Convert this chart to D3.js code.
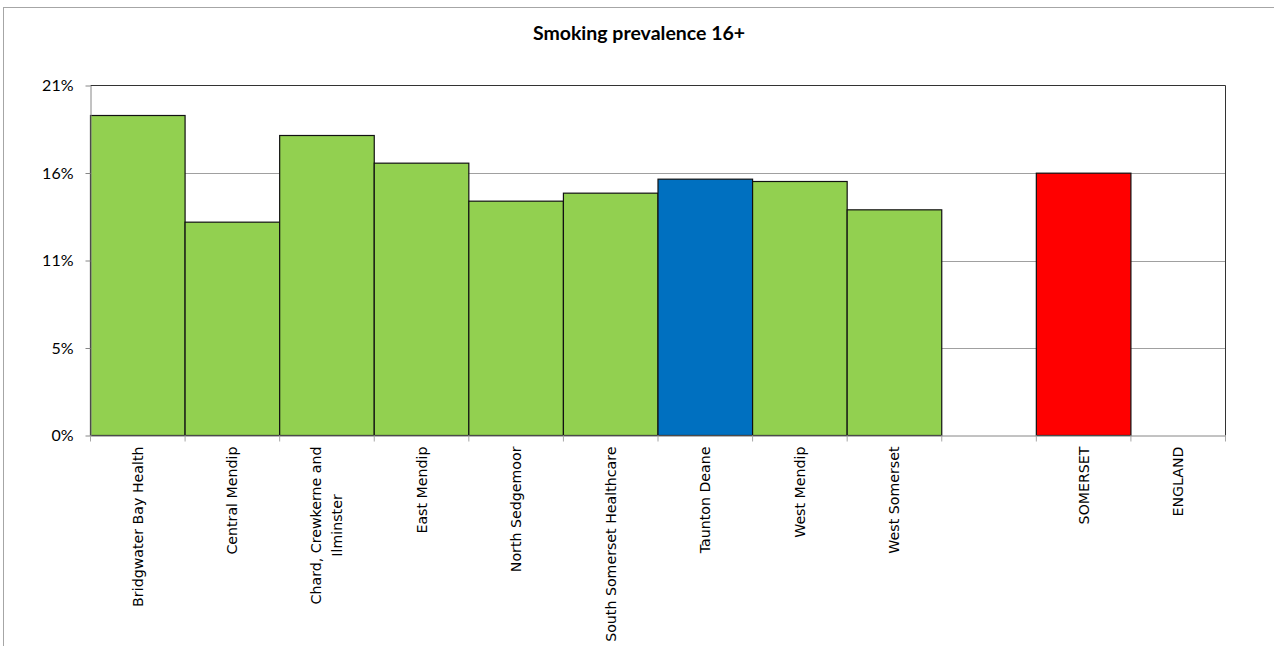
<!DOCTYPE html>
<html>
<head>
<meta charset="utf-8">
<script src="https://cdn.jsdelivr.net/npm/d3@7"></script>
<style>
  html, body { margin: 0; padding: 0; background: #fff; }
  svg { display: block; }
</style>
</head>
<body>
<svg id="chart" width="1274" height="646"></svg>
<script>
// ---- data ----
const categories = [
  "Bridgwater Bay Health",
  "Central Mendip",
  "Chard, Crewkerne and Ilminster",
  "East Mendip",
  "North Sedgemoor",
  "South Somerset Healthcare",
  "Taunton Deane",
  "West Mendip",
  "West Somerset",
  " ",
  "SOMERSET",
  "ENGLAND"
];
const values = [0.192, 0.128, 0.180, 0.1634, 0.1406, 0.1454, 0.1538, 0.1524, 0.1354, null, 0.1574, null];
const barColors = ["#92D050","#92D050","#92D050","#92D050","#92D050","#92D050","#0070C0","#92D050","#92D050","#FFFFFF","#FF0000","#FFFFFF"];
const labelLines = [
  ["Bridgwater Bay Health"],
  ["Central Mendip"],
  ["Chard, Crewkerne and", "Ilminster"],
  ["East Mendip"],
  ["North Sedgemoor"],
  ["South Somerset Healthcare"],
  ["Taunton Deane"],
  ["West Mendip"],
  ["West Somerset"],
  [""],
  ["SOMERSET"],
  ["ENGLAND"]
];
const yTicks = [0, 0.0525, 0.105, 0.1575, 0.21];
const yTickLabels = ["0%", "5%", "11%", "16%", "21%"];
const title = "Smoking prevalence 16+";

// ---- layout ----
const svg = d3.select("#chart");
const W = 1274, H = 646;
const plot = { left: 90.5, right: 1225.5, top: 85.5, bottom: 435.5 };

// outer chart border
svg.append("rect")
  .attr("x", 3.5).attr("y", 7.5)
  .attr("width", W + 10).attr("height", H + 10)
  .attr("fill", "#fff").attr("stroke", "#A6A6A6").attr("stroke-width", 1);

const x = d3.scaleBand().domain(categories).range([plot.left, plot.right]).padding(0);
const y = d3.scaleLinear().domain([0, 0.21]).range([plot.bottom, plot.top]);

// gridlines
svg.append("g").selectAll("line").data(yTicks.slice(1, -1)).join("line")
  .attr("x1", plot.left).attr("x2", plot.right)
  .attr("y1", d => Math.round(y(d)) + 0.5).attr("y2", d => Math.round(y(d)) + 0.5)
  .attr("stroke", "#A0A0A0").attr("stroke-width", 1);

// plot area border (top/right dark)
svg.append("path")
  .attr("d", `M${plot.left},${plot.top}H${plot.right}V${plot.bottom}`)
  .attr("fill", "none").attr("stroke", "#333").attr("stroke-width", 1);

// bars
const data = categories.map((c, i) => ({ c, v: values[i], color: barColors[i] }));
svg.append("g").selectAll("rect").data(data.filter(d => d.v != null)).join("rect")
  .attr("x", d => x(d.c))
  .attr("y", d => y(d.v))
  .attr("width", x.bandwidth())
  .attr("height", d => y(0) - y(d.v))
  .attr("fill", d => d.color)
  .attr("stroke", "#111")
  .attr("stroke-width", 1.2);

// y axis
const yAxis = d3.axisLeft(y).tickValues(yTicks)
  .tickFormat((d, i) => yTickLabels[i]).tickSize(5).tickSizeOuter(0);
const gy = svg.append("g").attr("transform", `translate(${plot.left},0)`).call(yAxis);
gy.select(".domain").attr("stroke", "#868686");
gy.selectAll(".tick line").attr("stroke", "#868686");
gy.selectAll(".tick text")
  .attr("x", -17)
  .attr("fill", "#000")
  .style("font-family", "Lato, 'Open Sans', sans-serif")
  .style("font-size", "16px");

// x axis
const xAxis = d3.axisBottom(x).tickSize(0).tickFormat("");
const gx = svg.append("g").attr("transform", `translate(0,${plot.bottom})`).call(xAxis);
gx.select(".domain").attr("stroke", "#868686");
// tick marks at band boundaries
const bounds = categories.map(c => x(c)).concat([plot.right]);
svg.append("g").selectAll("line").data(bounds).join("line")
  .attr("x1", d => d).attr("x2", d => d)
  .attr("y1", plot.bottom).attr("y2", plot.bottom + 6)
  .attr("stroke", "#A6A6A6").attr("stroke-width", 1);

// x labels (rotated)
const lineH = 21;
const lbl = svg.append("g").selectAll("text").data(categories).join("text")
  .attr("transform", (d, i) => {
    const n = labelLines[i].length;
    const cx = x(d) + x.bandwidth() / 2 - (n - 1) * lineH / 2 + 5;
    return `translate(${cx},${plot.bottom + 11}) rotate(-90)`;
  })
  .attr("text-anchor", "end")
  .style("font-family", "'DejaVu Sans', sans-serif")
  .style("font-size", "14.2px")
  .attr("fill", "#000");
lbl.each(function(d, i) {
  const t = d3.select(this);
  labelLines[i].forEach((ln, k) => {
    t.append("tspan").attr("x", 0).attr("y", k * lineH).text(ln);
  });
});
// centre secondary lines on the first line
lbl.each(function(d, i) {
  if (labelLines[i].length > 1) {
    const spans = d3.select(this).selectAll("tspan").nodes();
    const w0 = spans[0].getComputedTextLength();
    spans.forEach((s, k) => {
      if (k > 0) {
        const wk = s.getComputedTextLength();
        s.setAttribute("x", -(w0 - wk) / 2);
      }
    });
  }
});

// title
svg.append("text")
  .attr("x", 639).attr("y", 39.5)
  .attr("text-anchor", "middle")
  .style("font-family", "Lato, 'Open Sans', sans-serif")
  .style("font-weight", "bold")
  .style("font-size", "19.5px")
  .attr("fill", "#000")
  .text(title);
</script>
</body>
</html>
